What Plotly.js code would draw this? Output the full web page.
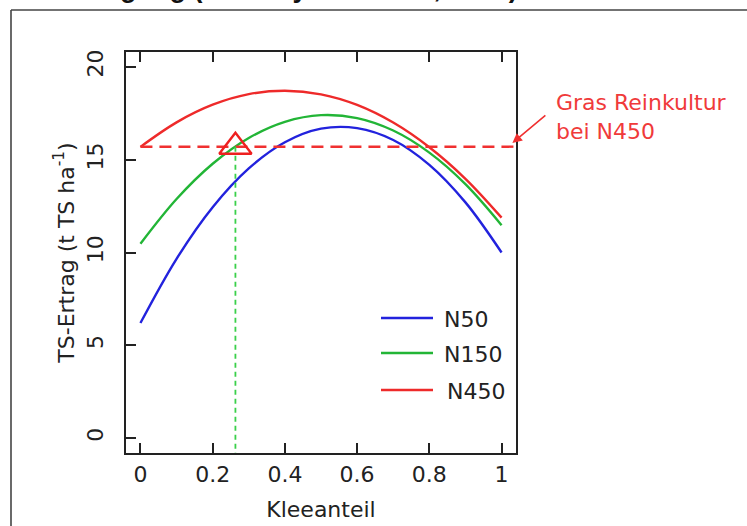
<!DOCTYPE html>
<html><head><meta charset="utf-8">
<script src="https://cdn.plot.ly/plotly-3.0.1.min.js"></script>
<style>html,body{margin:0;padding:0;background:#fff}#chart{width:747px;height:526px}</style>
</head><body><div id="chart"></div><script>
// Data
const kleeanteil = [0, 0.1, 0.2, 0.3, 0.4, 0.5, 0.6, 0.7, 0.8, 0.9, 1];
const ertragN50  = [6.2, 9.66, 12.44, 14.53, 15.94, 16.67, 16.70, 16.06, 14.72, 12.70, 10.0];
const ertragN150 = [10.47, 12.88, 14.78, 16.17, 17.04, 17.40, 17.24, 16.57, 15.38, 13.68, 11.47];
const ertragN450 = [15.69, 17.01, 17.96, 18.53, 18.71, 18.52, 17.95, 17.00, 15.67, 13.97, 11.88];
const seriesNames = ['N50', 'N150', 'N450'];
const seriesColors = ['#2222dd', '#22b536', '#ee2a2a'];
const grasReinkulturN450 = 15.7;      // yield of pure grass at N450
const kleeanteilGleicherErtrag = 0.263; // clover share where N150 reaches that yield
const xTicks = [0, 0.2, 0.4, 0.6, 0.8, 1];
const xTickLabels = ['0', '0.2', '0.4', '0.6', '0.8', '1'];
const yTicks = [0, 5, 10, 15, 20];
const yTickLabels = ['0', '5', '10', '15', '20'];

const axisCol = '#222';
const fontFam = 'DejaVu Sans, sans-serif';

const series = [ertragN50, ertragN150, ertragN450];
const traces = series.map((ys, i) => ({
  x: kleeanteil, y: ys, type: 'scatter', mode: 'lines', name: seriesNames[i],
  line: {color: seriesColors[i], width: 2.4, shape: 'spline'}, showlegend: false
}));
// Horizontal dashed reference line (Gras Reinkultur bei N450)
traces.push({x: [0, 1.04], y: [grasReinkulturN450, grasReinkulturN450], type: 'scatter', mode: 'lines',
  line: {color: '#f03030', width: 2.4, dash: '12px,7px'}, showlegend: false, hoverinfo: 'skip'});
// Vertical dotted green line
traces.push({x: [kleeanteilGleicherErtrag, kleeanteilGleicherErtrag], y: [grasReinkulturN450, -0.8], type: 'scatter', mode: 'lines',
  line: {color: '#3ad04a', width: 1.8, dash: '5px,4px'}, showlegend: false, hoverinfo: 'skip'});
// Triangle marker
traces.push({x: [kleeanteilGleicherErtrag], y: [grasReinkulturN450], type: 'scatter', mode: 'markers',
  marker: {symbol: 'triangle-up-open', size: 28, color: '#ee2020', line: {width: 2.4, color: '#ee2020'}},
  showlegend: false, cliponaxis: false});

// plot area geometry (pixels) for paper-coordinate helpers
const L = 126, R = 231, T = 52, B = 73, W = 747 - L - R, H = 526 - T - B;
const px = x => (x - L) / W;
const py = y => (526 - B - y) / H;

const shapes = [
  {type: 'line', xref: 'paper', yref: 'paper', x0: px(11), x1: px(11), y0: py(10), y1: py(530), line: {color: '#444', width: 1.6}},
  {type: 'line', xref: 'paper', yref: 'paper', x0: px(11), x1: px(750), y0: py(10), y1: py(10), line: {color: '#444', width: 1.6}}
];
const annotations = [];
const legendRows = [318, 353, 390];
const legendTextX = [442, 442, 445];
seriesNames.forEach((n, i) => {
  shapes.push({type: 'line', xref: 'paper', yref: 'paper', x0: px(381), x1: px(433), y0: py(legendRows[i]), y1: py(legendRows[i]),
    line: {color: seriesColors[i], width: 2.6}});
  annotations.push({xref: 'paper', yref: 'paper', x: px(legendTextX[i]), y: py(legendRows[i] + 1), xanchor: 'left', yanchor: 'middle',
    text: n, showarrow: false, font: {family: fontFam, size: 22, color: '#222'}});
});
// Arrow
annotations.push({xref: 'x', yref: 'y', x: 1.03, y: 15.9, ax: 36, ay: -30, text: ' ', showarrow: true,
  arrowhead: 2, arrowsize: 1.2, arrowwidth: 1.6, arrowcolor: '#f03030'});
annotations.push({xref: 'paper', yref: 'paper', x: px(554), y: py(116.5), xanchor: 'left', yanchor: 'middle', align: 'left',
  text: 'Gras Reinkultur<br>bei N450', showarrow: false, font: {family: fontFam, size: 22, color: '#f03a3a'}});
// Cut-off slide title at the very top
annotations.push({xref: 'paper', yref: 'paper', x: px(520), y: py(5), xanchor: 'right', yanchor: 'bottom',
  text: '<b>TS-Ertrag in Abhängigkeit von Kleeanteil und N-Düngung (nach Nyfeler et al., 2009)</b>', showarrow: false,
  font: {family: 'Liberation Sans, Arial, sans-serif', size: 27, color: '#111'}});

const layout = {
  width: 747, height: 526,
  margin: {l: L, r: R, t: T, b: B},
  paper_bgcolor: '#fff', plot_bgcolor: '#fff',
  showlegend: false,
  xaxis: {
    range: [-0.04, 1.04], tickvals: xTicks, ticktext: xTickLabels,
    ticks: 'inside', ticklen: 10, tickwidth: 2, tickcolor: axisCol,
    showline: true, linewidth: 2, linecolor: axisCol, mirror: 'ticks',
    showgrid: false, zeroline: false, ticklabelstandoff: 1,
    tickfont: {family: fontFam, size: 22, color: axisCol},
    title: {text: 'Kleeanteil', font: {family: fontFam, size: 22, color: axisCol}, standoff: 15}
  },
  yaxis: {
    range: [-0.8, 20.8], tickvals: yTicks, ticktext: yTickLabels, tickangle: -90,
    ticks: 'inside', ticklen: 10, tickwidth: 2, tickcolor: axisCol,
    showline: true, linewidth: 2, linecolor: axisCol, mirror: true,
    showgrid: false, zeroline: false, ticklabelstandoff: 12,
    tickfont: {family: fontFam, size: 22, color: axisCol},
    title: {text: 'TS-Ertrag (t TS ha<sup>-1</sup>)', font: {family: fontFam, size: 22, color: axisCol}, standoff: 3}
  },
  shapes: shapes, annotations: annotations
};
Plotly.newPlot('chart', traces, layout, {displayModeBar: false, staticPlot: true});
</script></body></html>
